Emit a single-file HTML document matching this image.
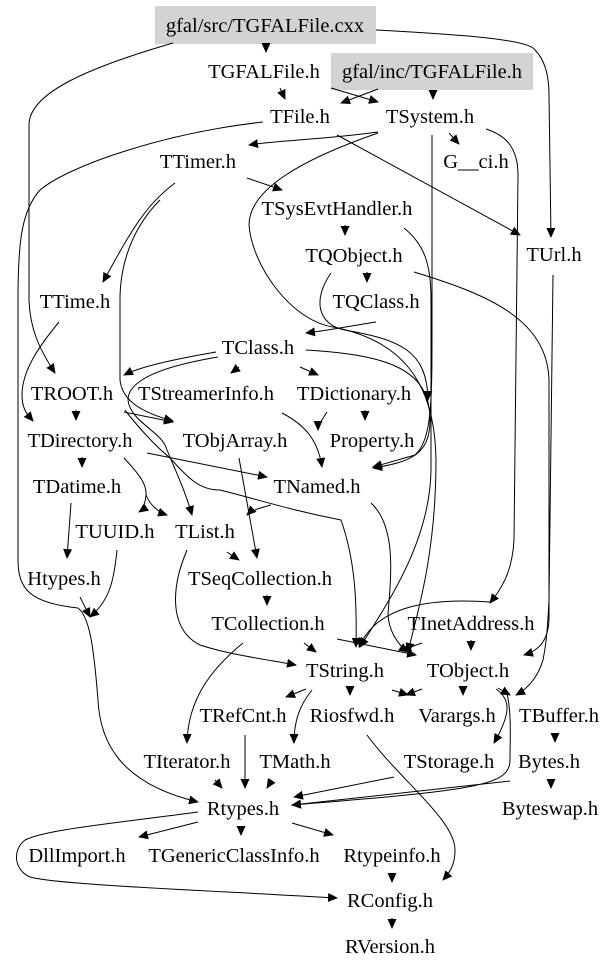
<!DOCTYPE html>
<html><head><meta charset="utf-8"><style>
html,body{margin:0;padding:0;background:#fff}
svg{display:block}
text{font-family:"Liberation Serif",serif;font-size:20.5px;fill:#000;text-anchor:middle}
.e path{stroke:#000;stroke-width:1;fill:none}
</style></head><body>
<svg width="608" height="971" viewBox="0 0 608 971">
<defs><marker id="a" markerWidth="10" markerHeight="9" refX="9" refY="4.5" orient="auto" markerUnits="userSpaceOnUse"><path d="M0,0 L10,4.5 L0,9 Z" style="fill:#000;stroke:none"/></marker></defs>
<rect x="155" y="6" width="221" height="38" fill="#d3d3d3"/>
<rect x="331" y="53" width="202" height="37" fill="#d3d3d3"/>
<g class="e" marker-end="url(#a)">
<path d="M266,44 L266,52"/>
<path d="M173,43 C80,70 29,95 29,125 L29,300 C30,330 40,350 55,373"/>
<path d="M376,30 C470,35 529,40 535,50 C545,60 549,75 549,95 L551,237"/>
<path d="M280,88 L285,99"/>
<path d="M331,88 L378,102"/>
<path d="M378,89 L341,103"/>
<path d="M433,90 L433,99"/>
<path d="M337,135 L520,235"/>
<path d="M263,122 C165,133 70,165 40,190 C22,210 18,240 18,300 L18,560 C18,590 31,603 78,608 C90,617 94,650 98,700 C100,740 118,783 198,802"/>
<path d="M378,132 C320,140 280,140 249,145"/>
<path d="M449,133 L459,144"/>
<path d="M486,129 C505,135 518,147 518,175 L514,540 C512,575 500,590 490,603"/>
<path d="M432,135 L432,330 C432,400 432,440 415,455 L373,467"/>
<path d="M378,133 C300,160 249,190 249,225 C252,265 290,320 333,327 C400,340 435,380 436,460 C436,560 415,620 408,652"/>
<path d="M247,178 L282,190"/>
<path d="M175,183 C145,205 130,233 103,282"/>
<path d="M160,200 C135,225 120,260 120,300 L120,380 C122,400 140,412 173,421"/>
<path d="M345,225 L345,235"/>
<path d="M404,228 C425,245 431,265 431,300 L431,470 C430,540 390,600 360,647"/>
<path d="M367,272 L367,282"/>
<path d="M414,272 C490,295 547,320 549,380 L549,620 C548,640 540,650 524,655"/>
<path d="M331,273 C312,300 318,325 345,330 C400,340 427,350 428,400"/>
<path d="M553,275 L549,600 C547,640 545,650 543,660 C537,680 525,690 516,695"/>
<path d="M376,322 C350,326 330,330 306,333"/>
<path d="M59,322 C40,345 22,370 22,395 C22,410 28,415 33,421"/>
<path d="M216,352 C170,360 140,367 124,375"/>
<path d="M218,357 C170,365 128,378 128,400 C130,420 157,430 165,445 C175,470 185,490 192,515"/>
<path d="M125,410 C140,430 160,450 169,457 C190,480 200,490 220,490 C260,500 290,510 341,520 C355,560 357,600 356,647"/>
<path d="M239,367 L231,373"/>
<path d="M300,367 L318,375"/>
<path d="M306,350 C390,355 430,370 430,420 C430,455 410,462 373,468"/>
<path d="M76,410 L76,420"/>
<path d="M124,412 L173,422"/>
<path d="M282,413 C305,425 318,440 322,467"/>
<path d="M327,412 C322,420 318,425 318,430"/>
<path d="M365,410 L365,420"/>
<path d="M82,457 L82,467"/>
<path d="M147,453 L267,477"/>
<path d="M124,458 C140,475 147,485 146,495 C145,505 142,510 139,512"/>
<path d="M146,495 C150,505 158,512 167,515"/>
<path d="M239,458 L257,558"/>
<path d="M71,503 L67,558"/>
<path d="M271,505 C260,508 252,510 247,515"/>
<path d="M371,503 C395,525 392,570 388,613 C388,630 398,645 408,652"/>
<path d="M117,550 C114,580 110,600 90,617"/>
<path d="M80,597 L90,617"/>
<path d="M227,552 L239,560"/>
<path d="M187,550 C170,590 170,630 200,645 C230,655 270,660 296,665"/>
<path d="M267,595 L267,605"/>
<path d="M304,643 L316,652"/>
<path d="M337,639 L416,655"/>
<path d="M243,643 C210,670 188,700 187,743"/>
<path d="M422,643 L402,650"/>
<path d="M490,602 C420,597 375,610 359,647"/>
<path d="M471,640 L471,650"/>
<path d="M306,689 L286,697"/>
<path d="M312,690 C300,705 294,720 294,743"/>
<path d="M350,688 L350,695"/>
<path d="M392,690 L408,695"/>
<path d="M422,689 L406,695"/>
<path d="M463,688 L463,695"/>
<path d="M498,688 L510,695"/>
<path d="M496,689 C512,700 510,715 494,743"/>
<path d="M506,690 C512,710 510,740 510,760 C510,785 480,790 292,805"/>
<path d="M245,735 L245,788"/>
<path d="M367,735 C400,780 455,820 455,850 C455,865 450,872 443,880"/>
<path d="M555,733 L555,742"/>
<path d="M215,780 L222,788"/>
<path d="M272,780 L267,788"/>
<path d="M394,777 L294,797"/>
<path d="M510,781 L292,805"/>
<path d="M551,780 L551,788"/>
<path d="M198,822 L139,837"/>
<path d="M241,826 L241,835"/>
<path d="M292,823 L333,835"/>
<path d="M198,812 C100,825 45,830 25,840 C12,850 14,870 30,877 C60,885 200,890 337,898"/>
<path d="M392,873 L392,882"/>
<path d="M392,918 L392,928"/>
</g>
<text x="265" y="32">gfal/src/TGFALFile.cxx</text>
<text x="264" y="78">TGFALFile.h</text>
<text x="432" y="78">gfal/inc/TGFALFile.h</text>
<text x="300" y="123">TFile.h</text>
<text x="430" y="123">TSystem.h</text>
<text x="476" y="168">G__ci.h</text>
<text x="198" y="168">TTimer.h</text>
<text x="337" y="215">TSysEvtHandler.h</text>
<text x="554" y="261">TUrl.h</text>
<text x="354" y="262">TQObject.h</text>
<text x="75" y="308">TTime.h</text>
<text x="376" y="308">TQClass.h</text>
<text x="258" y="354">TClass.h</text>
<text x="72" y="400">TROOT.h</text>
<text x="206" y="400">TStreamerInfo.h</text>
<text x="354" y="400">TDictionary.h</text>
<text x="80" y="447">TDirectory.h</text>
<text x="235" y="447">TObjArray.h</text>
<text x="372" y="447">Property.h</text>
<text x="77" y="493">TDatime.h</text>
<text x="317" y="493">TNamed.h</text>
<text x="115" y="538">TUUID.h</text>
<text x="205" y="538">TList.h</text>
<text x="64" y="585">Htypes.h</text>
<text x="260" y="585">TSeqCollection.h</text>
<text x="268" y="630">TCollection.h</text>
<text x="471" y="630">TInetAddress.h</text>
<text x="345" y="677">TString.h</text>
<text x="468" y="677">TObject.h</text>
<text x="243" y="722">TRefCnt.h</text>
<text x="352" y="722">Riosfwd.h</text>
<text x="457" y="722">Varargs.h</text>
<text x="559" y="722">TBuffer.h</text>
<text x="187" y="768">TIterator.h</text>
<text x="295" y="768">TMath.h</text>
<text x="449" y="768">TStorage.h</text>
<text x="549" y="768">Bytes.h</text>
<text x="243" y="815">Rtypes.h</text>
<text x="550" y="815">Byteswap.h</text>
<text x="77" y="862">DllImport.h</text>
<text x="234" y="862">TGenericClassInfo.h</text>
<text x="392" y="862">Rtypeinfo.h</text>
<text x="390" y="907">RConfig.h</text>
<text x="390" y="953">RVersion.h</text>
</svg>
</body></html>
